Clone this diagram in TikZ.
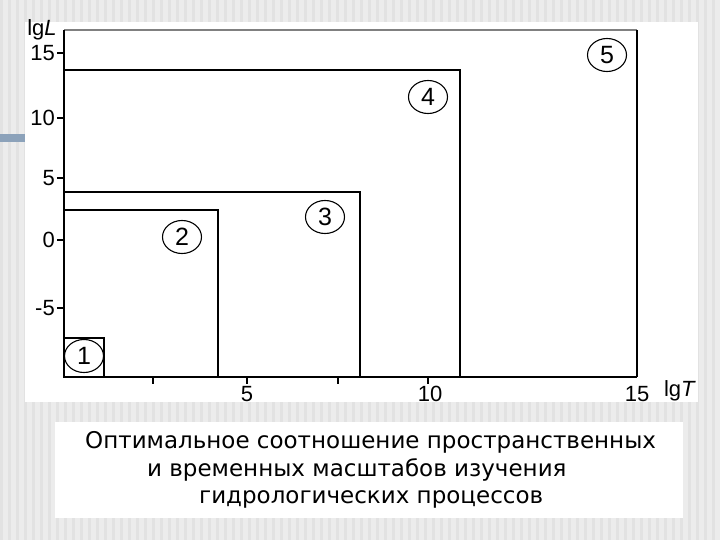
\documentclass[tikz,border=0pt]{standalone}
\usepackage{fontspec}
\setmainfont{Liberation Sans}
\newfontfamily\capfont{DejaVu Sans}
\usetikzlibrary{shapes.geometric}
\definecolor{slidegray}{RGB}{236,236,236}
\definecolor{stripegray}{RGB}{226,226,226}
\definecolor{barblue}{RGB}{140,162,186}
\tikzset{
	numlabel/.style={draw,ellipse,line width=1.1pt,minimum width=39pt,minimum height=33pt,inner sep=0pt,font=\fontsize{25}{25}\selectfont},
	ticklab/.style={inner sep=1pt,font=\fontsize{22}{22}\selectfont},
	scalebox/.style={draw,line width=1.4pt}
}
\begin{document}
\begin{tikzpicture}[x=1pt,y=-1pt]
		\useasboundingbox (0,0) rectangle (720,540);
		% slide background
		\fill[slidegray] (0,0) rectangle (720,540);
		\foreach \s in {0,8,...,720} \fill[stripegray] (\s,0) rectangle (\s+3,540);
		\fill[barblue] (0,134) rectangle (25,142);
		\fill[white] (25,22) rectangle (698,402);
		\fill[white] (55,422) rectangle (683,518);
		% scales
		\draw[scalebox] (64,377) rectangle (104,338);
		\draw[scalebox] (64,377) rectangle (218,210);
		\draw[scalebox] (64,377) rectangle (360,192);
		\draw[scalebox] (64,377) rectangle (460,70);
		\draw[scalebox,gray] (64,30) -- (637,30);
		\draw[line width=2pt] (637,30) -- (637,377);
		\draw[line width=1.4pt] (64,30) -- (64,377);
		\draw[line width=2.6pt] (64,377) -- (637,377);
		\node[numlabel] (n1) at (84,356) {1};
		\node[numlabel] (n2) at (182,237) {2};
		\node[numlabel] (n3) at (325,217) {3};
		\node[numlabel] (n4) at (428,97) {4};
		\node[numlabel] (n5) at (607,55) {5};
		% axes
		\foreach \v/\y in {15/53,10/118,5/178,0/240,-5/308} {
			\draw[line width=1.2pt] (57,\y) -- (64,\y);
			\node[ticklab,anchor=east] at (56,\y) {\v};
		}
		\foreach \x in {153,247,338,428} \draw[line width=1.2pt] (\x,377) -- (\x,384);
		\node[ticklab] (t5) at (247,394) {5};
		\node[ticklab] (t10) at (430,394) {10};
		\node[ticklab] (t15) at (637,394) {15};
		\node[ticklab] (lgT) at (680,391) {lg\textit{T}};
		\node[ticklab] (lgL) at (42,30) {lg\textit{L}};
		\node[align=left,anchor=west,inner sep=0pt,font=\capfont\fontsize{23}{27.5}\selectfont] (cap) at (85,470)
			{Оптимальное соотношение пространственных\\\hspace*{62pt}и временных масштабов изучения\\\hspace*{114pt}гидрологических процессов};
	\end{tikzpicture}
\end{document}
